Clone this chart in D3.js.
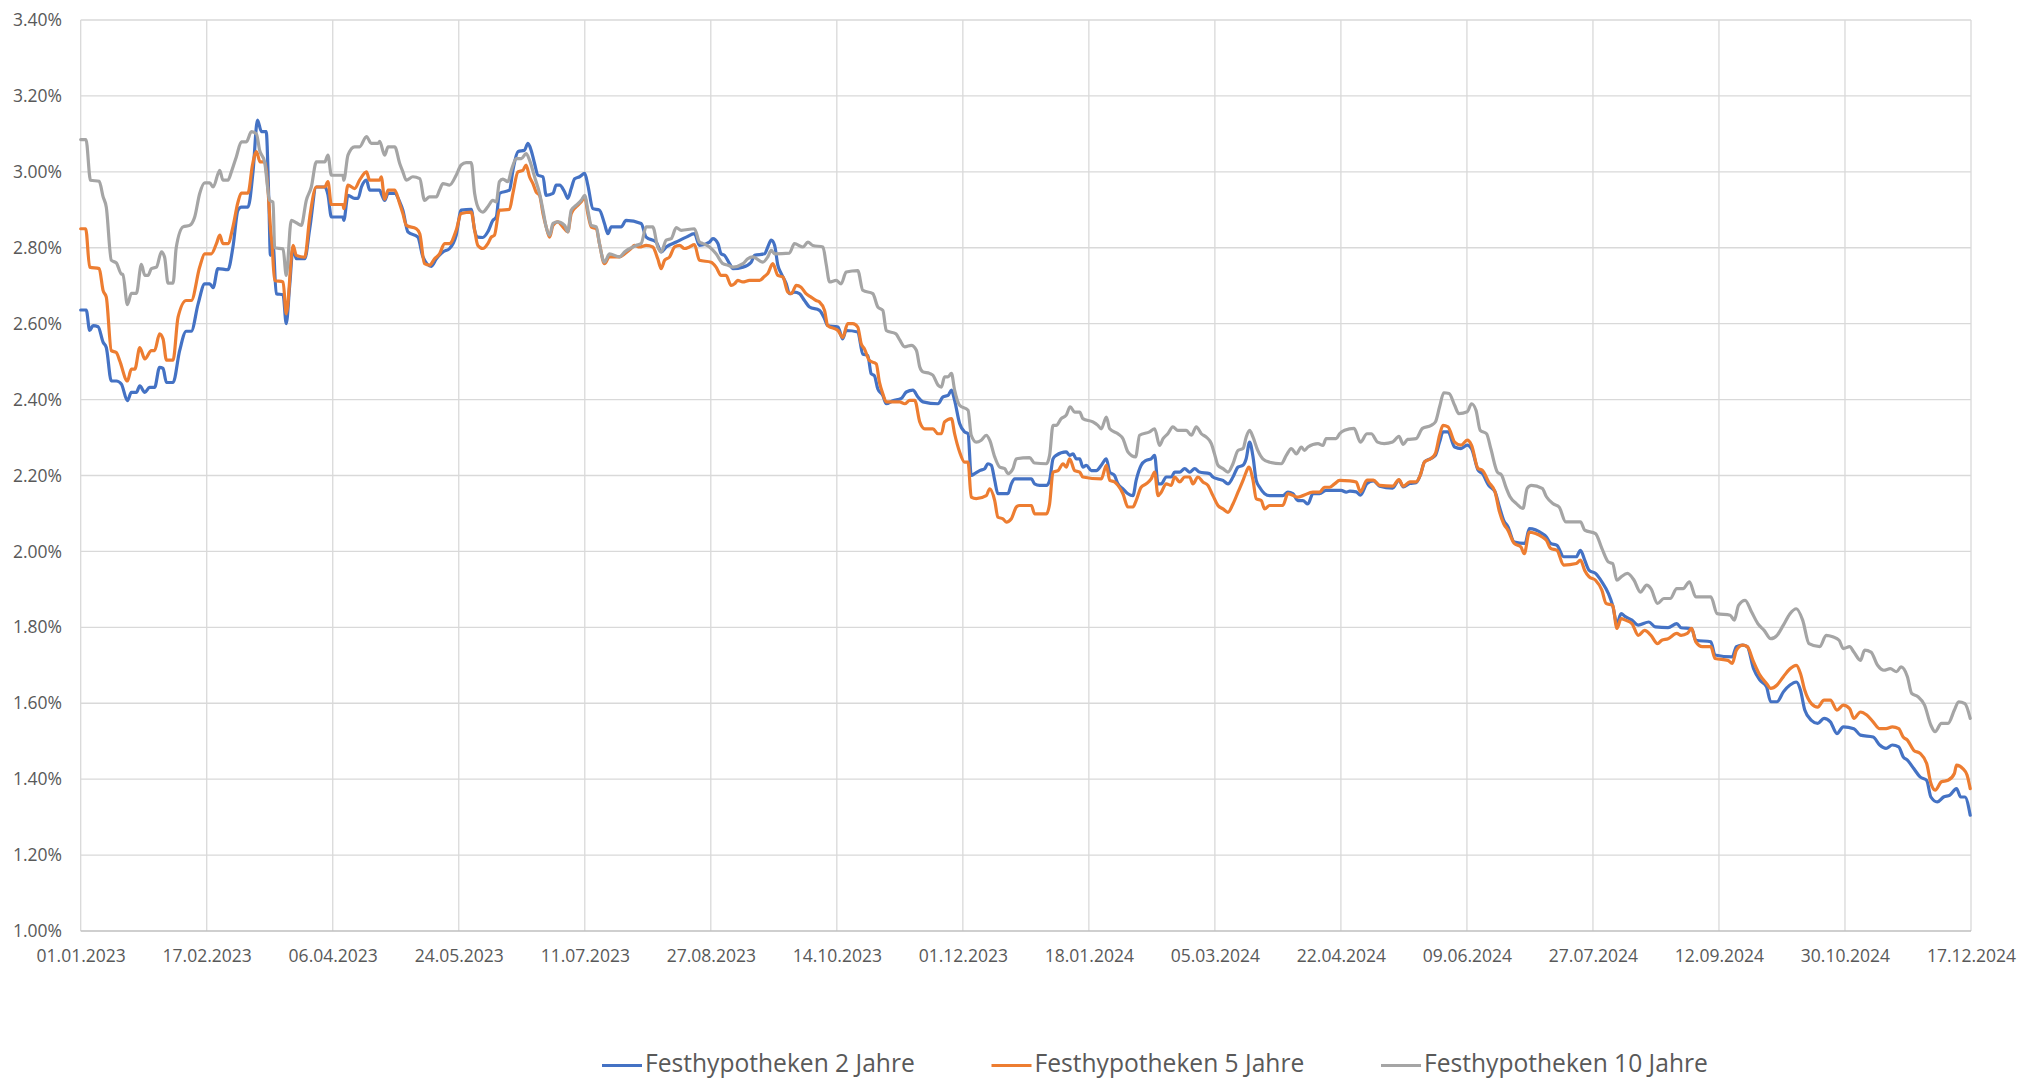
<!DOCTYPE html>
<html><head><meta charset="utf-8">
<script src="https://cdn.jsdelivr.net/npm/d3@7"></script>
<style>
html,body{margin:0;padding:0;background:#fff;}
svg{display:block;font-family:"Open Sans",sans-serif;}
</style></head><body>
<svg id="chart" width="2020" height="1078"></svg>
<script>
// ---- data (x = days since 01.01.2023, y = rate in %) ----
const startDate = new Date(2023, 0, 1);
const axisSpanDays = 716.4;
const seriesNames = ["Festhypotheken 2 Jahre", "Festhypotheken 5 Jahre", "Festhypotheken 10 Jahre"];
const seriesColors = ["#4472C4", "#ED7D31", "#A5A5A5"];
const xTickLabels = ["01.01.2023","17.02.2023","06.04.2023","24.05.2023","11.07.2023","27.08.2023","14.10.2023","01.12.2023","18.01.2024","05.03.2024","22.04.2024","09.06.2024","27.07.2024","12.09.2024","30.10.2024","17.12.2024"];
const yTickValues = [1.0,1.2,1.4,1.6,1.8,2.0,2.2,2.4,2.6,2.8,3.0,3.2,3.4];

const rates2y = [[0,2.636],[2.1,2.636],[3.4,2.582],[4.7,2.595],[6.6,2.592],[8.5,2.551],[9.7,2.537],[11.6,2.449],[13.5,2.449],[15.4,2.441],[17.7,2.397],[19.2,2.419],[21.1,2.419],[22.4,2.436],[24.3,2.419],[26.1,2.432],[28,2.432],[29.9,2.485],[31.2,2.482],[32.5,2.445],[35,2.445],[37.5,2.529],[40,2.58],[41.9,2.58],[44.5,2.652],[47,2.705],[48.9,2.705],[50.2,2.695],[52,2.745],[55.8,2.742],[57.7,2.802],[59.6,2.899],[60.9,2.907],[63.4,2.907],[65.3,3.0],[67,3.136],[68.5,3.106],[70.3,3.106],[71.3,2.925],[71.9,2.78],[72.9,2.81],[74.1,2.679],[76.7,2.676],[77.9,2.6],[79.2,2.7],[80.5,2.8],[81.7,2.771],[84.9,2.771],[86.8,2.85],[89.3,2.96],[92.5,2.96],[93.7,2.94],[95,2.881],[99.4,2.881],[99.7,2.872],[101.3,2.938],[103.8,2.93],[105.1,2.93],[106.4,2.96],[108.3,2.978],[109.5,2.952],[113.3,2.952],[113.9,2.943],[115.2,2.925],[116.5,2.943],[119,2.943],[120.9,2.921],[122.1,2.899],[124,2.842],[127.8,2.828],[129.7,2.776],[132.9,2.751],[134.8,2.771],[137.3,2.789],[139.8,2.798],[142.3,2.833],[144.2,2.899],[148,2.901],[149.3,2.846],[150.5,2.828],[152.4,2.827],[154.3,2.842],[156.2,2.872],[157.5,2.881],[158.7,2.943],[162.5,2.952],[163.8,3.004],[165.7,3.053],[168.2,3.057],[169.5,3.075],[170.7,3.057],[172,3.022],[173.3,2.991],[175.2,2.987],[176.4,2.938],[179,2.943],[180.2,2.965],[181.5,2.965],[183.4,2.947],[184.6,2.93],[185.9,2.956],[187.2,2.982],[189.1,2.987],[191,2.996],[192.2,2.965],[194.1,2.903],[196.6,2.899],[198.5,2.864],[199.8,2.837],[201.1,2.855],[204.8,2.855],[206.7,2.872],[212.4,2.864],[214.3,2.828],[218.1,2.815],[220,2.789],[221.9,2.802],[225.7,2.815],[229.5,2.828],[232.6,2.837],[234.5,2.806],[238.3,2.815],[239.6,2.824],[241.5,2.811],[242.7,2.784],[244,2.78],[245.9,2.758],[247.2,2.745],[251,2.749],[254.1,2.762],[255.4,2.78],[259.2,2.784],[260.4,2.802],[261.7,2.82],[263,2.806],[264.2,2.754],[265.5,2.732],[267.4,2.705],[268.6,2.679],[270.5,2.683],[272.4,2.679],[274.3,2.661],[276.2,2.644],[280,2.635],[281.9,2.613],[283.1,2.595],[287,2.591],[288.8,2.56],[290.1,2.582],[294.5,2.578],[296.4,2.52],[298.3,2.516],[299.6,2.468],[300.8,2.463],[302.1,2.428],[304,2.411],[305.3,2.389],[307.8,2.397],[311,2.403],[312.9,2.42],[315.4,2.425],[317.3,2.407],[319.2,2.394],[324.9,2.389],[326.8,2.407],[328.7,2.411],[330,2.425],[331.2,2.398],[333.1,2.337],[335,2.315],[336.3,2.31],[337.5,2.2],[338.8,2.205],[340.7,2.213],[342.6,2.218],[343.8,2.231],[345.1,2.227],[346.4,2.187],[347.6,2.152],[351.4,2.152],[352.7,2.178],[354,2.191],[360.3,2.191],[361.5,2.178],[363.4,2.174],[366,2.174],[367.2,2.187],[368.5,2.244],[369.7,2.253],[373.5,2.262],[374.8,2.253],[376.1,2.257],[377.3,2.244],[378.6,2.244],[379.8,2.222],[381.1,2.227],[383,2.213],[384.9,2.213],[386.8,2.227],[388.7,2.244],[390,2.209],[391.8,2.2],[393.1,2.178],[395,2.165],[396.9,2.152],[398.8,2.147],[400,2.187],[401.9,2.227],[403.8,2.24],[405.7,2.244],[407,2.253],[408.3,2.178],[409.5,2.178],[411.4,2.196],[413.3,2.196],[414.6,2.209],[416.5,2.209],[418.4,2.218],[420.3,2.209],[422.2,2.218],[424,2.209],[427.8,2.205],[429.1,2.196],[431,2.191],[432.9,2.187],[434.8,2.178],[436.7,2.196],[438.6,2.222],[440.5,2.227],[441.7,2.244],[443,2.288],[444.3,2.249],[445.5,2.187],[446.8,2.169],[448.7,2.152],[450.6,2.147],[455.6,2.147],[457.5,2.156],[459.4,2.152],[461.3,2.134],[463.2,2.134],[465.1,2.125],[467,2.152],[469.5,2.152],[472,2.161],[477.7,2.161],[479.6,2.156],[481,2.159],[483.4,2.157],[485,2.148],[487.5,2.179],[489.9,2.186],[492.3,2.172],[497.2,2.167],[499.6,2.188],[501.2,2.17],[503.7,2.179],[506.1,2.181],[507.7,2.201],[509.3,2.236],[511.8,2.245],[513.4,2.253],[515,2.288],[516.3,2.315],[518.2,2.315],[520.7,2.275],[523.1,2.271],[525.5,2.28],[527.1,2.271],[529.6,2.214],[531.2,2.205],[533.6,2.174],[536,2.157],[537.7,2.117],[539.3,2.082],[540.9,2.065],[543.3,2.025],[547.4,2.021],[549,2.06],[553.9,2.047],[555.5,2.038],[557.1,2.021],[559.5,2.016],[562,1.986],[566.8,1.986],[568.4,2.003],[570,1.977],[571.7,1.95],[574.1,1.942],[576.5,1.92],[579,1.889],[580.6,1.858],[582.2,1.81],[583.8,1.836],[585.4,1.828],[587.9,1.819],[590.3,1.806],[594.3,1.814],[596.8,1.801],[601.6,1.799],[604.9,1.81],[606.5,1.799],[610.5,1.797],[612.1,1.766],[617.8,1.762],[619.4,1.727],[625.9,1.722],[627.5,1.749],[629.9,1.753],[631.6,1.749],[634,1.691],[636.4,1.661],[638.9,1.643],[640.5,1.604],[642.9,1.604],[645.3,1.63],[647.8,1.648],[650.2,1.656],[651.8,1.634],[653.4,1.582],[655.9,1.555],[658.3,1.547],[660.7,1.56],[663.1,1.551],[665.6,1.52],[668,1.538],[672,1.533],[674.5,1.516],[679.3,1.511],[681.8,1.49],[684.2,1.481],[686.6,1.49],[689,1.485],[690.7,1.459],[692.3,1.45],[694.7,1.428],[697.1,1.406],[699.6,1.397],[701.2,1.353],[703.6,1.34],[706,1.353],[708.4,1.358],[710.9,1.375],[712.5,1.353],[714.1,1.353],[716.1,1.305]];

const rates5y = [[0,2.85],[1.9,2.85],[3.4,2.749],[7,2.745],[8.5,2.687],[9.7,2.67],[11.6,2.529],[13.5,2.524],[14.8,2.502],[17.7,2.449],[19.2,2.48],[20.5,2.48],[22.4,2.537],[24.3,2.507],[26.8,2.529],[28,2.529],[29.9,2.573],[31.2,2.56],[32.5,2.504],[35,2.504],[36.9,2.617],[40,2.661],[41.9,2.661],[45.1,2.749],[47,2.784],[49.5,2.784],[51.4,2.81],[52.7,2.833],[53.9,2.811],[55.8,2.811],[57.7,2.855],[59.6,2.92],[60.9,2.944],[63.4,2.944],[65.1,3.018],[66.6,3.053],[68,3.026],[69.7,3.026],[71,2.95],[71.9,2.855],[72.5,2.81],[73.5,2.714],[76.7,2.71],[77.9,2.626],[80.5,2.806],[81.7,2.78],[84.9,2.775],[86.8,2.88],[89.3,2.96],[92.5,2.96],[93.7,2.974],[95,2.914],[99.4,2.914],[99.7,2.903],[101.3,2.965],[103.8,2.956],[105.7,2.978],[108.3,3.0],[109.5,2.978],[113.3,2.978],[113.9,2.987],[115.2,2.928],[116.5,2.952],[119,2.952],[120.9,2.916],[122.1,2.89],[123.4,2.859],[127.2,2.85],[128.5,2.837],[130.3,2.758],[132.2,2.754],[134.1,2.771],[136,2.784],[137.9,2.811],[139.8,2.811],[142.3,2.846],[144.2,2.89],[148,2.894],[149.3,2.846],[150.5,2.806],[152.4,2.798],[154.3,2.811],[155.6,2.828],[156.8,2.833],[158.7,2.899],[162.5,2.901],[163.8,2.943],[165.7,3.0],[167.6,3.004],[168.8,3.018],[170.1,2.987],[171.4,2.969],[172.6,2.947],[173.9,2.938],[175.2,2.89],[176.4,2.855],[177.7,2.828],[179,2.859],[180.8,2.868],[182.7,2.855],[184.6,2.842],[185.9,2.89],[187.8,2.908],[189.7,2.921],[191,2.934],[192.2,2.89],[193.5,2.855],[195.4,2.85],[196.6,2.811],[198.5,2.758],[200.4,2.776],[204.2,2.776],[206.1,2.784],[208.6,2.798],[209.9,2.806],[211.8,2.802],[214.3,2.806],[216.8,2.802],[218.7,2.771],[220,2.745],[221.3,2.767],[223.2,2.776],[225.1,2.802],[227,2.806],[228.8,2.798],[230.7,2.802],[232.6,2.808],[234.5,2.767],[238.9,2.762],[240.8,2.749],[242.7,2.727],[244.6,2.727],[246.5,2.701],[247.8,2.705],[249,2.714],[250.9,2.71],[253.5,2.714],[257.3,2.714],[259.2,2.725],[260.4,2.732],[262.3,2.758],[264.2,2.727],[266.1,2.723],[268,2.683],[269.3,2.679],[271.2,2.701],[273,2.696],[274.9,2.679],[276.8,2.67],[278.7,2.661],[280,2.657],[281.9,2.635],[283.1,2.595],[287,2.582],[288.8,2.564],[290.7,2.6],[292.6,2.6],[294.5,2.591],[295.8,2.547],[297,2.534],[298.9,2.503],[301.5,2.494],[302.7,2.446],[304,2.415],[305.3,2.394],[310.4,2.394],[312.3,2.389],[314.2,2.398],[316.1,2.398],[318,2.341],[319.9,2.323],[323,2.323],[324.9,2.31],[326.2,2.31],[327.4,2.341],[330,2.35],[331.2,2.31],[333.1,2.262],[335,2.235],[336.3,2.235],[337.5,2.143],[339.4,2.139],[343.2,2.147],[344.5,2.165],[346.4,2.134],[347.6,2.09],[349.5,2.086],[350.8,2.077],[352.7,2.086],[354.6,2.117],[355.8,2.121],[360.3,2.121],[361.5,2.099],[366,2.099],[367.2,2.125],[368.5,2.209],[370.4,2.213],[372.3,2.231],[373.5,2.222],[374.8,2.244],[376.7,2.213],[378.6,2.209],[379.8,2.196],[386.8,2.191],[388.7,2.227],[390,2.187],[391.8,2.183],[393.1,2.174],[395,2.152],[396.9,2.117],[398.8,2.117],[400,2.134],[401.9,2.169],[403.8,2.178],[405.7,2.191],[407,2.209],[408.3,2.147],[409.5,2.156],[411.4,2.178],[413.3,2.174],[414.6,2.196],[416.5,2.183],[418.4,2.196],[420.3,2.196],[421.5,2.178],[423.4,2.196],[425.3,2.183],[427.2,2.174],[429.1,2.147],[431,2.121],[432.9,2.112],[434.8,2.103],[436.7,2.125],[438.6,2.156],[440.5,2.187],[441.7,2.209],[442.7,2.222],[444.3,2.187],[445.5,2.139],[447.4,2.134],[448.7,2.112],[450.6,2.121],[455.6,2.121],[457.5,2.152],[461.3,2.143],[463.2,2.147],[467,2.156],[469.5,2.156],[471.4,2.169],[473.3,2.169],[475.2,2.178],[477.1,2.187],[481,2.186],[483.4,2.183],[485,2.157],[487.5,2.188],[489.9,2.188],[492.3,2.174],[497.2,2.172],[499.6,2.189],[501.2,2.172],[503.7,2.183],[506.1,2.183],[507.7,2.201],[509.3,2.236],[511.8,2.245],[513.4,2.258],[515,2.306],[516.3,2.332],[518.2,2.328],[520.7,2.288],[523.1,2.28],[525.5,2.293],[527.1,2.28],[529.6,2.218],[531.2,2.214],[533.6,2.183],[536,2.157],[537.7,2.104],[539.3,2.073],[540.9,2.056],[543.3,2.021],[545.8,2.012],[547.1,1.994],[549,2.051],[551.4,2.047],[553.9,2.038],[555.5,2.029],[557.1,2.008],[559.5,2.003],[562,1.964],[566.8,1.968],[568.4,1.977],[570,1.95],[571.7,1.933],[574.1,1.924],[576.5,1.898],[578.1,1.863],[580.6,1.858],[582.2,1.797],[583.8,1.823],[585.4,1.819],[587.9,1.81],[590.3,1.779],[592.7,1.792],[595.1,1.779],[597.6,1.757],[599.2,1.766],[601.6,1.77],[604.9,1.784],[606.5,1.779],[608.9,1.784],[610.5,1.797],[612.1,1.762],[614.6,1.749],[617.8,1.749],[619.4,1.718],[624.3,1.713],[625.9,1.705],[627.5,1.74],[629.9,1.753],[631.6,1.749],[634,1.709],[636.4,1.674],[638.9,1.652],[640.5,1.639],[642.9,1.648],[645.3,1.67],[647.8,1.691],[650.2,1.7],[651.8,1.678],[653.4,1.634],[655.9,1.599],[658.3,1.59],[660.7,1.608],[663.1,1.608],[665.6,1.582],[668,1.595],[670.4,1.586],[672,1.56],[674.5,1.577],[676.9,1.569],[679.3,1.551],[681.8,1.533],[684.2,1.533],[686.6,1.538],[689,1.533],[690.7,1.511],[692.3,1.503],[694.7,1.476],[697.1,1.468],[699.6,1.441],[701.2,1.389],[702.8,1.371],[705.2,1.393],[707.7,1.397],[710.1,1.415],[710.9,1.437],[713.3,1.428],[714.9,1.411],[716.1,1.375]];

const rates10y = [[0,3.085],[2,3.085],[3.7,2.978],[7,2.975],[8.5,2.934],[9.7,2.907],[11.6,2.767],[13.5,2.76],[15.4,2.731],[16,2.73],[17.7,2.65],[19.2,2.68],[21.1,2.68],[23,2.756],[24.3,2.727],[25.5,2.727],[26.8,2.745],[28.7,2.749],[30.6,2.789],[31.8,2.775],[33.1,2.707],[35,2.707],[36.2,2.8],[38.8,2.855],[41.3,2.859],[43.2,2.881],[45.1,2.943],[47,2.971],[48.9,2.971],[50.2,2.96],[52.7,3.004],[53.9,2.978],[55.8,2.978],[57.1,3.0],[59,3.04],[60.9,3.079],[62.8,3.079],[64.7,3.106],[66.6,3.1],[67.8,3.057],[69.7,3.026],[71.6,2.925],[72.9,2.92],[73.5,2.8],[76.7,2.797],[77.9,2.727],[79.8,2.872],[81.7,2.866],[83.6,2.859],[85.5,2.925],[87.4,2.96],[89.3,3.026],[92.5,3.026],[93.7,3.044],[95,2.991],[99.4,2.991],[99.7,2.978],[101.3,3.044],[103.8,3.066],[105.7,3.066],[108.3,3.093],[110.1,3.075],[112.7,3.075],[113.3,3.08],[115.2,3.044],[116.5,3.066],[119,3.066],[120.9,3.022],[122.1,3.0],[123.4,2.978],[125.9,2.987],[128.5,2.982],[130.3,2.925],[132.2,2.934],[134.8,2.934],[136,2.952],[137.3,2.969],[139.8,2.965],[142.3,2.991],[144.2,3.018],[146.1,3.024],[148,3.024],[149.3,2.943],[151.2,2.899],[152.4,2.894],[154.3,2.908],[156.2,2.925],[157.5,2.921],[158.7,2.974],[160,2.981],[161.9,2.974],[163.2,3.004],[165.1,3.035],[167,3.035],[168.8,3.048],[170.1,3.031],[172,2.987],[173.9,2.943],[175.2,2.899],[176.4,2.855],[177.7,2.833],[179,2.864],[180.8,2.868],[183.4,2.859],[184.6,2.842],[185.9,2.899],[187.8,2.912],[189.7,2.925],[191,2.938],[192.2,2.899],[193.5,2.859],[195.4,2.855],[196.6,2.811],[198.5,2.762],[200.4,2.784],[204.2,2.776],[206.1,2.789],[210.5,2.806],[212.4,2.811],[214.3,2.855],[216.8,2.855],[218.7,2.802],[220,2.789],[221.9,2.82],[223.8,2.824],[225.7,2.853],[227.6,2.846],[232.6,2.85],[234.5,2.815],[235.8,2.811],[238.3,2.802],[240.8,2.784],[243.4,2.758],[245.3,2.754],[247.2,2.749],[251,2.758],[252.8,2.771],[254.7,2.776],[258.5,2.762],[260.4,2.776],[261.7,2.793],[263,2.784],[268.6,2.786],[270.5,2.811],[273.7,2.802],[275.6,2.815],[277.5,2.806],[281.3,2.802],[282.5,2.758],[283.8,2.71],[286.3,2.714],[288.2,2.705],[290.1,2.736],[294.5,2.74],[296.4,2.688],[300.2,2.679],[302.1,2.644],[304,2.635],[305.3,2.582],[309,2.573],[310.4,2.557],[312.3,2.539],[314.8,2.543],[316.7,2.53],[318,2.486],[319.2,2.473],[321.7,2.469],[323,2.464],[324.9,2.438],[326.2,2.433],[327.4,2.46],[328.7,2.46],[330,2.469],[331.2,2.425],[333.1,2.385],[336.3,2.372],[337.5,2.306],[339.4,2.288],[341.3,2.293],[343.2,2.306],[344.5,2.293],[346.4,2.249],[348.3,2.222],[350.2,2.218],[351.4,2.205],[353.3,2.218],[354.6,2.244],[359.6,2.247],[361.5,2.233],[366,2.231],[367.2,2.253],[368.5,2.332],[369.7,2.332],[371.6,2.35],[373.5,2.359],[375,2.381],[376.7,2.367],[378.6,2.367],[379.8,2.35],[383.6,2.341],[385.5,2.332],[386.8,2.323],[388.7,2.354],[390,2.323],[393.1,2.31],[395,2.297],[396.9,2.262],[399.8,2.249],[401.3,2.306],[405.1,2.315],[407,2.323],[408.9,2.279],[410.2,2.297],[412,2.31],[413.9,2.328],[415.8,2.319],[419,2.319],[420.9,2.306],[422.8,2.328],[424.7,2.31],[426.6,2.301],[428.5,2.284],[429.7,2.257],[431,2.227],[432.9,2.218],[434.8,2.209],[436.7,2.231],[438.6,2.266],[440.5,2.271],[441.7,2.301],[443,2.319],[444.3,2.301],[446.1,2.266],[448,2.244],[450.6,2.235],[455,2.231],[456.9,2.253],[458.8,2.271],[460.7,2.257],[462.6,2.275],[463.8,2.266],[465.1,2.275],[468.9,2.284],[470.8,2.279],[472,2.297],[475.8,2.297],[477.1,2.31],[479,2.319],[482.6,2.324],[485,2.288],[487.5,2.31],[489.1,2.31],[491.5,2.288],[494,2.284],[497.2,2.288],[499.6,2.303],[501.2,2.282],[502.9,2.295],[506.1,2.297],[508.5,2.324],[511.8,2.332],[513.4,2.341],[515,2.381],[516.6,2.418],[518.6,2.416],[520.7,2.385],[522.3,2.363],[525.5,2.368],[527.1,2.389],[528.8,2.372],[530.4,2.319],[532.8,2.31],[534.4,2.271],[536.9,2.209],[538.5,2.201],[540.1,2.17],[541.7,2.144],[544.1,2.126],[546.6,2.113],[548.2,2.166],[549.8,2.174],[553.9,2.166],[555.5,2.144],[557.9,2.126],[560.3,2.117],[562.8,2.078],[568.4,2.078],[570,2.056],[574.1,2.047],[576.5,2.008],[579,1.972],[580.6,1.968],[582.2,1.924],[583.8,1.933],[586.2,1.942],[588.7,1.924],[591.1,1.893],[593.5,1.911],[595.1,1.902],[597.6,1.863],[600,1.876],[602.4,1.876],[604.9,1.902],[607.3,1.902],[609.7,1.92],[612.1,1.88],[617.8,1.88],[620.2,1.836],[625.1,1.832],[626.7,1.819],[628.3,1.858],[630.8,1.871],[633.2,1.841],[635.6,1.81],[638,1.792],[640.5,1.77],[642.9,1.779],[645.3,1.806],[647.8,1.836],[650.2,1.849],[652.6,1.819],[655,1.757],[659.1,1.749],[661.5,1.779],[664,1.775],[666.4,1.766],[668,1.744],[670.4,1.749],[672,1.735],[674.5,1.713],[676.1,1.74],[678.5,1.735],[681,1.7],[683.4,1.687],[685.8,1.691],[688.2,1.683],[689.9,1.696],[692.3,1.67],[693.9,1.626],[696.3,1.617],[698.8,1.595],[701.2,1.542],[702.8,1.525],[705.2,1.547],[707.7,1.547],[710.1,1.582],[711.7,1.604],[714.1,1.599],[716.1,1.56]];

const seriesData = [rates2y, rates5y, rates10y];

// ---- chart ----
const svg = d3.select("#chart");
const plot = {left: 80.7, right: 1971, top: 20, bottom: 931};
const dayMs = 86400000;
const toDate = d => new Date(startDate.getTime() + d * dayMs);

const x = d3.scaleTime()
  .domain([startDate, toDate(axisSpanDays)])
  .range([plot.left, plot.right]);
const y = d3.scaleLinear()
  .domain([1.0, 3.4])
  .range([plot.bottom, plot.top]);

const xTickDates = xTickLabels.map((_, i) => toDate(i * axisSpanDays / (xTickLabels.length - 1)));

// gridlines
const grid = svg.append("g").attr("class", "grid");
grid.selectAll("line.h").data(yTickValues.slice(1)).join("line")
  .attr("x1", plot.left).attr("x2", plot.right)
  .attr("y1", d => y(d)).attr("y2", d => y(d))
  .attr("stroke", "#D9D9D9").attr("stroke-width", 1.3);
grid.selectAll("line.v").data(xTickDates).join("line")
  .attr("x1", d => x(d)).attr("x2", d => x(d))
  .attr("y1", plot.top).attr("y2", plot.bottom)
  .attr("stroke", "#D9D9D9").attr("stroke-width", 1.3);
grid.append("line")
  .attr("x1", plot.left).attr("x2", plot.right)
  .attr("y1", y(1.0)).attr("y2", y(1.0))
  .attr("stroke", "#BFBFBF").attr("stroke-width", 1.5);

// axes
const xAxis = d3.axisBottom(x)
  .tickValues(xTickDates)
  .tickFormat((d, i) => xTickLabels[i])
  .tickSize(0).tickPadding(18.6);
const gx = svg.append("g").attr("transform", `translate(0,${plot.bottom})`).call(xAxis);
gx.select(".domain").remove();
gx.selectAll("text").attr("fill", "#595959").style("font-family", '"Open Sans", sans-serif').style("font-size", "17.5px");

const yAxis = d3.axisLeft(y)
  .tickValues(yTickValues)
  .tickFormat(d => d.toFixed(2) + "%")
  .tickSize(0).tickPadding(18.7);
const gy = svg.append("g").attr("transform", `translate(${plot.left},0)`).call(yAxis);
gy.select(".domain").remove();
gy.selectAll("text").attr("fill", "#595959").style("font-family", '"Open Sans", sans-serif').style("font-size", "17.5px");

// lines
const line = d3.line()
  .x(d => x(toDate(d[0])))
  .y(d => y(d[1]))
  .curve(d3.curveMonotoneX);
svg.append("g").selectAll("path").data(seriesData).join("path")
  .attr("d", line)
  .attr("fill", "none")
  .attr("stroke", (d, i) => seriesColors[i])
  .attr("stroke-width", 3.2)
  .attr("stroke-linejoin", "round")
  .attr("stroke-linecap", "round");

// legend
const legend = svg.append("g").attr("transform", "translate(602,0)");
const item = legend.selectAll("g").data(seriesNames).join("g")
  .attr("transform", (d, i) => `translate(${i * 389.5},0)`);
item.append("line")
  .attr("x1", 0).attr("x2", 40).attr("y1", 1065.5).attr("y2", 1065.5)
  .attr("stroke", (d, i) => seriesColors[i]).attr("stroke-width", 3);
item.append("text")
  .attr("x", 43).attr("y", 1072)
  .attr("fill", "#595959")
  .style("font-size", "24.6px")
  .text(d => d);
</script>
</body></html>
